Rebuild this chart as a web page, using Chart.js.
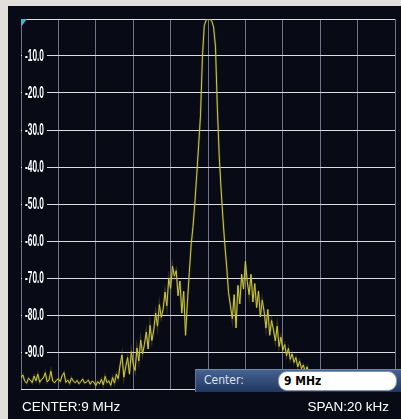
<!DOCTYPE html>
<html>
<head>
<meta charset="utf-8">
<script src="https://cdn.jsdelivr.net/npm/chart.js@4.4.1/dist/chart.umd.min.js"></script>
<style>
html, body { margin: 0; padding: 0; }
body { width: 401px; height: 419px; background: #e2dfdb; position: relative; overflow: hidden; font-family: 'Liberation Sans', Arial, sans-serif; }
#panel { position: absolute; left: 8px; top: 6px; right: 0; bottom: 0; background: #080a15; }
#chart { position: absolute; left: 0; top: 0; }
#marker { position: absolute; left: 21px; top: 19px; width: 0; height: 0; border-top: 8px solid #3db6c6; border-right: 6px solid transparent; }
.foot { position: absolute; top: 400px; line-height: 14px; color: #fff; font-size: 13.5px; }
#centerTxt { left: 22px; }
#spanTxt { right: 12px; }
#entry { position: absolute; left: 195px; top: 369px; width: 206px; height: 23px; box-sizing: border-box;
  background: linear-gradient(#46628f, #1e3762); border-top: 1px solid #6f88ae; border-left: 1px solid #5a74a0; }
#entry .lbl { position: absolute; left: 8px; top: 3px; color: #dde3ee; font-family: 'DejaVu Sans Condensed', sans-serif; font-size: 12px; }
#entry .field { position: absolute; left: 82px; top: 1px; width: 119px; height: 20px; box-sizing: border-box; background: #fff;
  border: 1px solid #8d95a8; border-radius: 9px; padding-left: 5px; line-height: 18px; color: #000;
  font-family: 'DejaVu Sans Condensed', sans-serif; font-size: 12px; font-weight: bold; }
</style>
</head>
<body>
<div id="panel"></div>
<canvas id="chart" width="401" height="419"></canvas>
<div id="marker"></div>
<div id="entry"><span class="lbl">Center:</span><div class="field">9 MHz</div></div>
<div class="foot" id="centerTxt">CENTER:9 MHz</div>
<div class="foot" id="spanTxt">SPAN:20 kHz</div>
<script>
// sweep: 201 bins over 20 kHz span, offsets from 9 MHz centre
const FREQ_START_KHZ = -10;
const FREQ_STEP_KHZ = 0.1;

// trace levels (dBm), left to right
const noiseLeft = [
    -97.0, -96.2, -97.9, -98.4, -97.1, -97.6, -98.3, -96.5, -97.8, -96.0,
    -98.2, -97.4, -97.0, -95.6, -98.1, -97.5, -95.2, -97.9, -98.3, -97.6,
    -97.2, -98.0, -96.4, -95.6, -98.2, -97.6, -98.5, -97.0, -97.9, -98.3,
    -97.7, -98.6, -98.0, -97.3, -98.4, -98.1, -97.6, -98.7, -97.9, -98.2,
    -99.1, -98.0, -98.6, -97.4, -98.9, -96.6, -98.3, -97.8, -99.0, -96.9,
    -98.4, -96.0, -97.2
];
const leftShoulder = [
    -93.5, -90.8, -96.8, -94.0, -91.5, -96.0, -89.9, -93.2, -95.0, -88.9,
    -92.4, -86.8, -90.5, -88.0, -84.6, -89.2, -82.8, -86.9, -84.0, -79.5,
    -83.0, -77.2, -80.6, -78.5, -73.8, -77.5, -70.2, -72.8, -66.8, -69.5,
    -68.0, -74.8, -70.8, -79.5, -73.6, -85.5, -76.5, -68.5
];
const mainLobe = [
    -61, -56, -49.5, -42, -34, -26, -10.5, -1.8, -0.3, 0,
    -0.1, -0.5, -2.2, -7.5, -24, -37, -46, -54, -61, -67
];
const rightShoulder = [
    -74.0, -77.5, -81.0, -74.5, -83.5, -72.0, -77.0, -69.0, -73.0, -65.5,
    -71.0, -74.5, -69.0, -76.5, -71.5, -78.0, -73.5, -80.5, -76.0, -79.0,
    -83.5, -78.5, -85.5, -81.5, -84.0, -87.0, -83.0, -88.5, -86.0, -89.5,
    -88.0, -91.0, -89.0, -92.0, -90.5, -92.8, -91.5, -94.0, -92.5, -94.5,
    -93.5, -95.5, -94.0, -96.0, -95.5
];
const noiseRight = [
    -97.4, -96.8, -98.1, -97.5, -98.3, -96.9, -97.8, -98.2, -97.3, -98.6,
    -97.1, -97.9, -98.4, -96.7, -97.6, -98.0, -97.2, -98.5, -97.7, -96.9,
    -98.2, -97.4, -98.8, -97.5, -96.6, -98.1, -97.8, -98.3, -97.0, -98.6,
    -97.4, -97.9, -96.8, -98.2, -97.6, -98.4, -97.1, -98.0, -97.7, -98.5,
    -96.9, -97.8, -98.3, -97.5, -97.9
];

// y axis: reference level 0 dB, 10 dB/div
const Y_MIN = -100;
const Y_MAX = 0;
const Y_STEP = 10;

const levels = [...noiseLeft, ...leftShoulder, ...mainLobe, ...rightShoulder, ...noiseRight];
const trace = levels.map((v, i) => ({ x: FREQ_START_KHZ + i * FREQ_STEP_KHZ, y: v }));

// analyzer style dB labels: narrow, drawn inside the graticule on a dark patch
const yLabelPlugin = {
    id: 'yLabels',
    beforeDatasetsDraw(chart) {
        const s = chart.scales.y;
        const c = chart.ctx;
        const left = chart.chartArea.left;
        const squeeze = 0.52;
        c.save();
        c.font = 'bold 16px "Liberation Sans", Arial, sans-serif';
        c.textBaseline = 'middle';
        s.ticks.forEach(t => {
            if (t.value === Y_MAX || t.value === Y_MIN) return;
            const y = s.getPixelForValue(t.value);
            const label = t.value.toFixed(1);
            const w = c.measureText(label).width * squeeze;
            c.fillStyle = '#080a15';
            c.fillRect(left + 1, y - 3, w + 6, 6);
            c.save();
            c.translate(left + 4, y + 1);
            c.scale(squeeze, 1);
            c.fillStyle = '#ffffff';
            c.fillText(label, 0, 0);
            c.restore();
        });
        c.restore();
    }
};

const ctx = document.getElementById('chart').getContext('2d');
new Chart(ctx, {
    type: 'line',
    data: {
        datasets: [{
            data: trace,
            borderColor: '#cfca3a',
            borderWidth: 1,
            pointRadius: 0,
            tension: 0,
            fill: false
        }, {
            // persistence glow under the live trace
            data: trace,
            borderColor: 'rgba(150,146,40,0.3)',
            borderWidth: 2.2,
            pointRadius: 0,
            tension: 0,
            fill: false
        }]
    },
    options: {
        responsive: false,
        animation: false,
        events: [],
        layout: { padding: { left: 21, top: 19, right: 6, bottom: 30 } },
        plugins: { legend: { display: false }, tooltip: { enabled: false } },
        scales: {
            x: {
                type: 'linear', min: -10, max: 10,
                ticks: { display: false, stepSize: 2 },
                grid: { color: '#74718a', drawTicks: false },
                border: { display: false },
                afterFit(s) { s.height = 0; }
            },
            y: {
                min: Y_MIN, max: Y_MAX,
                ticks: { display: false, stepSize: Y_STEP },
                grid: { color: '#dcdce2', drawTicks: false },
                border: { display: false },
                afterFit(s) { s.width = 0; }
            }
        }
    },
    plugins: [yLabelPlugin]
});
</script>
</body>
</html>
